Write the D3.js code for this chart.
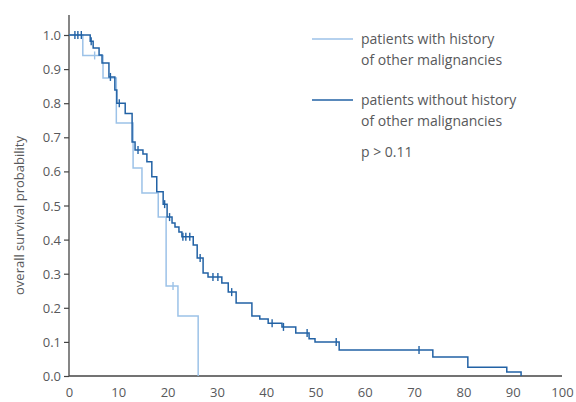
<!DOCTYPE html>
<html>
<head>
<meta charset="utf-8">
<script src="https://cdn.jsdelivr.net/npm/d3@7"></script>
<style>
  body { margin: 0; background: #fff; }
  svg text { font-family: "Open Sans", "Noto Sans", sans-serif; fill: #58595b; }
</style>
</head>
<body>
<div id="chart"></div>
<script>
// survival curves (months, probability)
var withTimes = [0, 2.8, 6.9, 9.6, 13.0, 14.8, 18.1, 19.7, 22.1, 26.2];
var withSurv  = [1.0, 0.94, 0.874, 0.742, 0.61, 0.537, 0.466, 0.264, 0.176, 0.0];
var withCensored = [5.2, 21.1];

var withoutTimes = [0, 4.3, 4.9, 6.1, 6.7, 8.1, 9.3, 9.7, 11.4, 12.8, 13.4, 15.0, 15.8, 16.8, 17.8,
  19.1, 19.9, 20.9, 21.5, 22.3, 22.9, 25.2, 26.0, 27.2, 28.2, 31.0, 32.3, 33.9, 37.1, 38.7,
  40.4, 43.2, 46.0, 48.7, 49.9, 54.8, 73.8, 80.9, 88.8, 91.7];
var withoutSurv = [1.0, 0.982, 0.962, 0.941, 0.918, 0.877, 0.839, 0.80, 0.77, 0.686, 0.663, 0.651, 0.628, 0.584, 0.54,
  0.504, 0.466, 0.449, 0.437, 0.422, 0.408, 0.384, 0.346, 0.302, 0.29, 0.273, 0.246, 0.214, 0.176, 0.167,
  0.155, 0.144, 0.126, 0.109, 0.10, 0.076, 0.056, 0.026, 0.012, 0.0];
var withoutCensored = [1.2, 1.8, 2.5, 4.5, 8.4, 10.2, 14.0, 19.4, 20.4, 23.1, 23.7, 24.5, 26.6,
  29.2, 30.2, 33.0, 41.2, 43.5, 48.3, 54.2, 71.0];

var xTicks = [0, 10, 20, 30, 40, 50, 60, 70, 80, 90, 100];
var yTicks = [0, 0.1, 0.2, 0.3, 0.4, 0.5, 0.6, 0.7, 0.8, 0.9, 1.0];

var lightBlue = '#9cc2e8';
var darkBlue = '#2262a5';

var width = 576, height = 402;
var x0 = 69, x1 = 562, yTop = 35, yBottom = 376;

var svg = d3.select('#chart').append('svg')
  .attr('width', width)
  .attr('height', height);

var x = d3.scaleLinear().domain([0, 100]).range([x0, x1]);
var y = d3.scaleLinear().domain([0, 1]).range([yBottom, yTop]);

// axes
var yAxis = d3.axisLeft(y).tickValues(yTicks).tickFormat(d3.format('.1f')).tickSize(5).tickSizeOuter(0);
var gy = svg.append('g').attr('transform', 'translate(' + x0 + ',0)').call(yAxis);
gy.select('.domain').remove();
gy.selectAll('.tick line').attr('stroke', '#444').attr('stroke-width', 1.2);
gy.selectAll('.tick text').attr('x', -8).attr('dy', '0.35em').style('font-size', '13px');

var xAxis = d3.axisBottom(x).tickValues(xTicks).tickSize(0).tickFormat(d3.format('d'));
var gx = svg.append('g').attr('transform', 'translate(0,' + yBottom + ')').call(xAxis);
gx.select('.domain').remove();
gx.selectAll('.tick text').attr('y', 12).style('font-size', '13px');

svg.append('line')
  .attr('x1', x0).attr('x2', x0).attr('y1', 15).attr('y2', yBottom)
  .attr('stroke', '#444').attr('stroke-width', 1.3);
svg.append('line')
  .attr('x1', x0).attr('x2', x1).attr('y1', yBottom).attr('y2', yBottom)
  .attr('stroke', '#444').attr('stroke-width', 1.3);

svg.append('text')
  .attr('transform', 'translate(24,' + ((yTop + yBottom) / 2 + 10) + ') rotate(-90)')
  .attr('text-anchor', 'middle')
  .style('font-size', '13px')
  .text('overall survival probability');

var line = d3.line()
  .x(function(d) { return x(d[0]); })
  .y(function(d) { return y(d[1]); })
  .curve(d3.curveStepAfter);

function survAt(times, surv, t) {
  var i = d3.bisectRight(times, t) - 1;
  return surv[Math.max(0, i)];
}

function drawCurve(times, surv, censored, color) {
  var pts = d3.zip(times, surv);
  svg.append('path')
    .datum(pts)
    .attr('d', line)
    .attr('fill', 'none')
    .attr('stroke', color)
    .attr('stroke-width', 1.5);

  svg.selectAll(null)
    .data(censored)
    .enter().append('line')
    .attr('x1', function(d) { return x(d); })
    .attr('x2', function(d) { return x(d); })
    .attr('y1', function(d) { return y(survAt(times, surv, d)) - 4; })
    .attr('y2', function(d) { return y(survAt(times, surv, d)) + 4; })
    .attr('stroke', color)
    .attr('stroke-width', 1.4);
}

drawCurve(withTimes, withSurv, withCensored, lightBlue);
drawCurve(withoutTimes, withoutSurv, withoutCensored, darkBlue);

// legend
var legend = [
  { color: lightBlue, lines: ['patients with history', 'of other malignancies'], y: 39 },
  { color: darkBlue, lines: ['patients without history', 'of other malignancies'], y: 100 }
];
legend.forEach(function(l) {
  svg.append('line')
    .attr('x1', 312).attr('x2', 353).attr('y1', l.y).attr('y2', l.y)
    .attr('stroke', l.color).attr('stroke-width', 1.5);
  l.lines.forEach(function(t, i) {
    svg.append('text')
      .attr('x', 361).attr('y', l.y + i * 21)
      .attr('dy', '0.35em')
      .style('font-size', '14px')
      .text(t);
  });
});
svg.append('text')
  .attr('x', 361).attr('y', 152)
  .attr('dy', '0.35em')
  .style('font-size', '14px')
  .text('p > 0.11');
</script>
</body>
</html>
